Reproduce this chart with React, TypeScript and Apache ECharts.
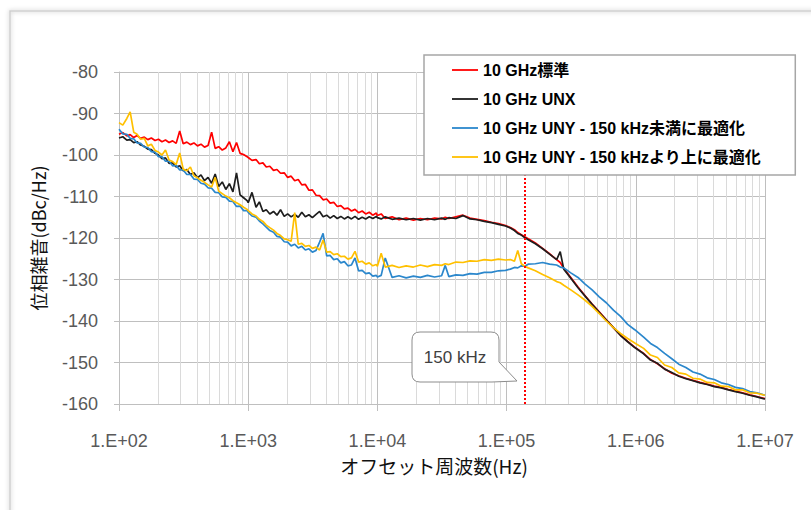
import { useEffect, useRef } from "react";
import * as echarts from "echarts";

// Offset frequency grid (Hz)
const freqHz = [
  100, 107, 115, 122, 130, 138, 147, 157, 167, 178, 190, 202, 215, 229, 244, 260, 277, 295, 314, 335, 357, 380, 405, 431, 459, 489, 521, 555, 591, 630, 671, 715, 762, 812, 865, 921, 981,
  1000, 1070, 1150, 1220, 1300, 1380, 1470, 1570, 1670, 1780, 1900, 2020, 2150, 2290, 2440, 2600, 2770, 2950, 3140, 3350, 3570, 3800, 4050, 4310, 4590, 4890, 5210, 5550, 5910, 6300, 6710, 7150, 7620, 8120, 8650, 9210, 9810,
  10000, 10700, 11500, 13000, 14700, 16700, 19000, 21500, 24400, 27700, 31400, 33500, 35700, 40500, 45900, 52100, 59100, 67100, 76200, 86500, 98100,
  107000, 115000, 122000, 130000, 138000, 147000, 167000, 190000, 215000, 244000, 260000, 277000, 314000, 357000, 405000, 459000, 521000, 591000, 671000, 762000, 865000, 981000,
  1150000, 1300000, 1470000, 1670000, 1900000, 2150000, 2440000, 2770000, 3140000, 3570000, 4050000, 4590000, 5210000, 5910000, 6710000, 7620000, 8650000, 10000000,
];

// 10 GHz 標準 (red)
const standardNoise = [
  -95.0, -94.6, -95.4, -95.1, -95.8, -95.3, -96.0, -95.7, -96.3, -95.9, -96.5, -96.2, -96.8, -96.4, -97.0, -96.6, -97.2, -94.2, -97.3, -96.9, -97.5, -97.1, -97.8, -97.4, -98.1, -97.7, -94.5, -98.4, -98.0, -98.8, -98.3, -96.8, -99.2, -97.0, -99.6, -99.9, -100.4,
  -100.6, -101.3, -101.1, -102.1, -101.9, -102.9, -102.7, -103.7, -103.5, -104.4, -104.3, -105.4, -105.1, -106.2, -105.9, -107.2, -107.1, -108.5, -108.4, -109.7, -109.8, -110.8, -110.6, -111.6, -111.4, -112.4, -112.2, -113.0, -112.8, -113.5, -113.1, -113.9, -113.5, -114.2, -113.8, -114.5, -114.0,
  -114.6, -114.2, -115.3, -114.9, -115.6, -115.2, -115.7, -115.3, -115.6, -115.2, -115.4, -115.0, -115.3, -114.9, -114.5, -115.2, -115.5, -115.8, -116.2, -116.5, -117.0,
  -117.5, -118.0, -118.7, -119.2, -119.7, -120.2, -121.2, -122.5, -123.8, -125.2, -125.9, -127.3, -129.5, -131.8, -133.9, -135.9, -137.8, -139.7, -141.6, -143.4, -144.9, -146.3,
  -147.8, -149.3, -150.3, -151.5, -152.6, -153.2, -153.8, -154.3, -154.8, -155.2, -155.7, -156.0, -156.5, -156.9, -157.3, -157.8, -158.2, -158.7,
];

// 10 GHz UNX (black)
const unxNoise = [
  -95.9, -95.6, -96.4, -96.3, -97.0, -96.8, -97.6, -97.9, -98.6, -98.7, -99.6, -100.0, -100.9, -100.7, -102.0, -101.9, -102.9, -102.6, -103.8, -103.5, -104.7, -104.3, -105.5, -104.8, -106.2, -105.4, -106.8, -104.6, -107.6, -106.5, -108.3, -106.9, -108.9, -104.3, -109.6, -110.3, -111.0,
  -111.5, -109.0, -112.6, -111.3, -113.6, -113.2, -114.2, -113.6, -114.5, -113.2, -114.8, -114.2, -114.9, -114.3, -115.0, -113.8, -114.9, -114.4, -115.1, -114.3, -113.6, -114.9, -114.5, -115.2, -114.6, -115.3, -114.8, -115.4, -114.9, -115.4, -114.8, -115.5, -115.0, -115.4, -114.9, -115.3, -114.8,
  -115.1, -115.4, -114.9, -115.5, -115.2, -115.6, -115.3, -115.7, -115.3, -115.6, -115.2, -115.5, -115.1, -115.3, -114.6, -115.4, -115.6, -116.0, -116.3, -116.7, -117.1,
  -117.6, -118.2, -118.9, -119.3, -119.9, -120.4, -121.4, -122.6, -123.9, -125.2, -123.3, -127.5, -129.7, -132.0, -134.0, -136.0, -137.9, -139.8, -141.6, -143.5, -145.0, -146.4,
  -147.9, -149.4, -150.2, -151.6, -152.4, -153.3, -153.9, -154.4, -154.9, -155.3, -155.8, -156.1, -156.6, -157.0, -157.4, -157.9, -158.3, -158.8,
];

// 10 GHz UNY - 150 kHz未満に最適化 (blue)
const unyBelowNoise = [
  -93.8, -94.9, -95.0, -96.0, -96.1, -97.1, -97.2, -98.1, -98.2, -99.2, -99.3, -100.4, -100.4, -101.5, -101.5, -102.6, -102.5, -103.6, -103.6, -104.7, -104.7, -105.8, -105.9, -106.8, -107.0, -107.9, -108.0, -109.0, -109.1, -110.1, -110.2, -111.1, -111.2, -112.4, -112.3, -113.4, -113.4,
  -113.8, -114.7, -115.0, -115.9, -116.6, -117.4, -118.2, -118.6, -119.6, -119.8, -120.9, -121.0, -121.9, -121.5, -122.4, -122.0, -122.9, -122.6, -123.4, -123.0, -121.0, -118.9, -124.3, -124.2, -125.2, -125.0, -126.0, -125.7, -126.7, -126.5, -124.8, -127.9, -127.8, -128.6, -128.4, -129.2, -129.0,
  -129.4, -129.0, -124.8, -129.5, -129.1, -129.6, -129.2, -129.5, -129.0, -129.4, -129.1, -126.6, -129.3, -128.9, -129.0, -128.6, -128.7, -128.3, -128.3, -127.9, -127.8,
  -127.5, -127.1, -127.2, -126.7, -126.8, -126.3, -126.2, -125.9, -126.3, -126.5, -127.0, -127.2, -128.4, -129.5, -131.1, -132.5, -134.2, -135.6, -137.4, -138.9, -140.8, -142.1,
  -143.9, -145.4, -146.4, -147.8, -149.1, -150.4, -151.2, -152.3, -152.8, -153.7, -154.1, -154.9, -155.3, -156.0, -156.3, -157.0, -157.3, -157.9,
];

// 10 GHz UNY - 150 kHzより上に最適化 (yellow)
const unyAboveNoise = [
  -92.2, -92.8, -91.2, -89.6, -94.5, -95.0, -96.2, -96.0, -97.8, -97.4, -98.9, -99.3, -100.0, -98.8, -101.2, -101.6, -102.3, -99.5, -103.4, -103.8, -102.9, -105.0, -105.5, -106.1, -106.6, -107.2, -107.7, -105.4, -108.7, -109.3, -109.9, -110.3, -111.0, -111.5, -112.0, -112.6, -113.1,
  -113.4, -114.2, -114.7, -115.5, -116.0, -116.9, -117.5, -118.1, -118.9, -119.4, -120.2, -120.4, -120.8, -113.9, -121.5, -121.3, -122.0, -121.8, -122.5, -122.2, -122.9, -120.5, -123.4, -123.3, -124.0, -123.8, -124.5, -124.4, -125.1, -124.8, -123.2, -125.8, -125.6, -126.3, -126.0, -126.7, -126.4,
  -126.8, -123.7, -127.0, -126.6, -127.1, -126.7, -127.0, -126.5, -126.9, -126.4, -126.6, -126.2, -126.4, -125.8, -125.9, -125.5, -125.6, -125.2, -125.4, -125.1, -125.3,
  -125.2, -125.6, -123.0, -126.2, -126.8, -127.2, -127.9, -128.8, -129.6, -130.5, -130.8, -131.4, -132.5, -133.7, -135.0, -136.5, -138.2, -140.0, -141.6, -143.0, -144.2, -145.3,
  -146.6, -148.2, -148.8, -150.6, -151.2, -152.5, -152.8, -153.8, -154.0, -154.8, -154.9, -155.7, -155.8, -156.6, -156.6, -157.3, -157.4, -157.9,
];

const seriesNames = [
  "10 GHz標準",
  "10 GHz UNX",
  "10 GHz UNY - 150 kHz未満に最適化",
  "10 GHz UNY - 150 kHzより上に最適化",
];
const seriesColors = ["#FF0000", "#1E1E1E", "#2B87CC", "#FFC000"];
const seriesValues = [standardNoise, unxNoise, unyBelowNoise, unyAboveNoise];

const xTickLabels = ["1.E+02", "1.E+03", "1.E+04", "1.E+05", "1.E+06", "1.E+07"];
const decadeStarts = [100, 1000, 10000, 100000, 1000000];
const minorMultipliers = [2, 3, 4, 5, 6, 7, 8, 9];
const markerFreq = 139000;
const markerLabel = "150 kHz";

const yAxisName = "位相雑音(dBc/Hz)";
const xAxisName = "オフセット周波数(Hz)";

echarts.graphic.registerShape(
  "callout",
  echarts.graphic.extendPath(
    "M 420 332 H 491 Q 499 332 499 340 V 362 L 517 381 L 492 382 H 420 Q 412 382 412 374 V 340 Q 412 332 420 332 Z",
    {}
  )
);

const latin = "'Liberation Sans', Arial, 'Noto Sans CJK JP', sans-serif";
const cjk = "'Noto Sans CJK JP', 'Liberation Sans', sans-serif";

export default function App() {
  const ref = useRef<HTMLDivElement>(null);

  useEffect(() => {
    if (!ref.current) return;
    const chart = echarts.init(ref.current, undefined, { renderer: "svg" });

    const minorFreqs: number[] = [];
    decadeStarts.forEach((d) => minorMultipliers.forEach((m) => minorFreqs.push(d * m)));

    const dataSeries = seriesNames.map((name, k) => ({
      name,
      type: "line",
      z: 3,
      data: freqHz.map((f, i) => [f, seriesValues[k][i]]),
      showSymbol: false,
      symbol: "none",
      lineStyle: { color: seriesColors[k], width: 1.7 },
      itemStyle: { color: seriesColors[k] },
      emphasis: { disabled: true },
      silent: true,
    }));

    const option: any = {
      animation: false,
      backgroundColor: "#ffffff",
      grid: { left: 119, right: 46, top: 72, bottom: 106, containLabel: false },
      legend: {
        data: seriesNames,
        orient: "vertical",
        left: 424,
        top: 55,
        z: 20,
        padding: [7, 34, 10, 28],
        itemGap: 13,
        itemWidth: 26,
        itemHeight: 16,
        icon: "path://M0 0 H26 V1.8 H0 Z",
        backgroundColor: "#ffffff",
        borderColor: "#a6a6a6",
        borderWidth: 1.5,
        selectedMode: false,
        textStyle: { fontSize: 16, fontWeight: "bold", color: "#000", fontFamily: latin },
      },
      xAxis: {
        type: "log",
        logBase: 10,
        min: 100,
        max: 10000000,
        axisLine: { show: true, lineStyle: { color: "#bfbfbf", width: 1 } },
        axisTick: { show: true, length: 7, lineStyle: { color: "#bfbfbf" } },
        splitLine: { show: true, lineStyle: { color: "#bfbfbf", width: 1 } },
        axisLabel: {
          formatter: (v: number) => xTickLabels[Math.round(Math.log10(v)) - 2] ?? "",
          fontSize: 18,
          color: "#595959",
          fontFamily: latin,
          margin: 28,
        },
        name: xAxisName,
        nameLocation: "middle",
        nameGap: 52,
        nameTextStyle: { fontSize: 19, color: "#111", fontFamily: cjk, padding: [0, 16, 0, 0] },
      },
      yAxis: {
        type: "value",
        min: -160,
        max: -80,
        interval: 10,
        axisLine: { show: true, lineStyle: { color: "#bfbfbf", width: 1 } },
        axisTick: { show: true, length: 5, lineStyle: { color: "#bfbfbf" } },
        splitLine: { show: true, lineStyle: { color: "#bfbfbf", width: 1 } },
        axisLabel: { fontSize: 18, color: "#595959", fontFamily: latin, margin: 21 },
        name: yAxisName,
        nameLocation: "middle",
        nameRotate: 90,
        nameGap: 72,
        nameTextStyle: { fontSize: 18, color: "#111", fontFamily: cjk },
      },
      series: [
        {
          name: "minorGrid",
          type: "line",
          data: [],
          silent: true,
          z: 1,
          markLine: {
            z: 1,
            silent: true,
            animation: false,
            symbol: ["none", "none"],
            label: { show: false },
            lineStyle: { color: "#dadada", type: "solid", width: 1 },
            emphasis: { disabled: true },
            data: minorFreqs.map((f) => ({ xAxis: f })),
          },
        },
        ...dataSeries,
        {
          name: "marker",
          type: "line",
          data: [],
          silent: true,
          z: 5,
          markLine: {
            z: 5,
            silent: true,
            animation: false,
            symbol: ["none", "none"],
            label: { show: false },
            lineStyle: { color: "#FF0000", type: [2, 2], width: 2 },
            emphasis: { disabled: true },
            data: [{ xAxis: markerFreq }],
          },
        },
      ],
      graphic: [
        {
          type: "rect",
          silent: true,
          shape: { x: 10, y: 11, width: 840, height: 540 },
          style: {
            fill: "none",
            stroke: "#cfcfcf",
            lineWidth: 1.5,
            shadowBlur: 4,
            shadowColor: "rgba(0,0,0,0.25)",
          },
        },
        {
          type: "callout",
          x: 0,
          y: 0,
          z: 10,
          silent: true,
          style: { fill: "#ffffff", stroke: "#8c8c8c", lineWidth: 1 },
        },
        {
          type: "text",
          x: 455,
          y: 357,
          z: 11,
          silent: true,
          style: {
            text: markerLabel,
            fill: "#404040",
            fontSize: 17,
            fontFamily: latin,
            align: "center",
            verticalAlign: "middle",
          },
        },
      ],
    };

    chart.setOption(option);
    return () => chart.dispose();
  }, []);

  return (
    <div
      ref={ref}
      style={{ position: "fixed", left: 0, top: 0, width: 811, height: 510, background: "#fff" }}
    />
  );
}
